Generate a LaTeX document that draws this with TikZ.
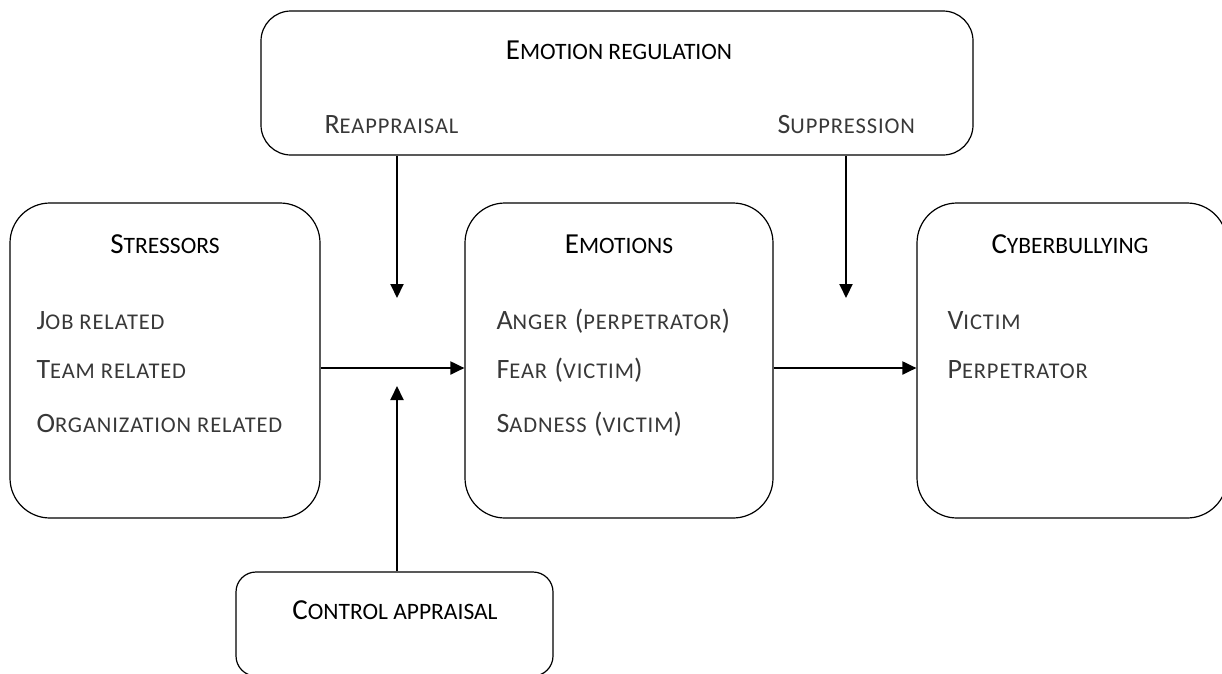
\documentclass[tikz,border=0pt]{standalone}
\usepackage{fontspec}
\setmainfont{Carlito}
\usetikzlibrary{arrows.meta}
% faked small capitals: initial at full size, the rest as smaller capitals
\newcommand\lcsize{20}
\newcommand\lowcaps[1]{{\fontsize{\lcsize}{\lcsize}\selectfont\MakeUppercase{#1}}}
\tikzset{
  box/.style={draw, line width=1.2pt, rounded corners=#1, inner sep=0pt},
  head/.style={anchor=base, text=black,
    font=\fontsize{29}{31}\selectfont\renewcommand\lcsize{23.5}},
  item/.style={anchor=base west, text=black!78,
    font=\addfontfeatures{LetterSpace=4}\fontsize{28}{30}\selectfont\renewcommand\lcsize{22.5}},
  flow/.style={line width=2pt, -{Triangle[length=14pt,width=13pt]}}
}
\begin{document}
\begin{tikzpicture}[x=1pt, y=-1pt]
\useasboundingbox (0,0) rectangle (1222,673);

% boxes
\node[box=30pt, minimum width=712pt, minimum height=144pt] (reg) at (617,83) {};
\node[box=40pt, minimum width=310pt, minimum height=315pt] (str) at (165,360.5) {};
\node[box=40pt, minimum width=308pt, minimum height=315pt] (emo) at (619,360.5) {};
\node[box=40pt, minimum width=310pt, minimum height=315pt] (cyb) at (1072,360.5) {};
\node[box=20pt, minimum width=317pt, minimum height=104pt] (ctl) at (394.5,624) {};

% emotion regulation
\node[head] (regt) at (619,59) {E\lowcaps{motion regulation}};
\node[item] (reap) at (321,133) {R\lowcaps{eappraisal}};
\node[item] (supp) at (774,133) {S\lowcaps{uppression}};

% stressors
\node[head] (strt) at (165,253) {S\lowcaps{tressors}};
\node[item] (s1) at (33,329) {J\lowcaps{ob related}};
\node[item] (s2) at (33,378) {T\lowcaps{eam related}};
\node[item] (s3) at (33,432) {O\lowcaps{rganization related}};

% emotions
\node[head] (emot) at (619,253) {E\lowcaps{motions}};
\node[item] (e1) at (493,329) {A\lowcaps{nger} (\lowcaps{perpetrator})};
\node[item] (e2) at (493,378) {F\lowcaps{ear} (\lowcaps{victim})};
\node[item] (e3) at (493,432) {S\lowcaps{adness} (\lowcaps{victim})};

% cyberbullying
\node[head] (cybt) at (1070,253) {C\lowcaps{yberbullying}};
\node[item] (c1) at (944,329) {V\lowcaps{ictim}};
\node[item] (c2) at (944,378) {P\lowcaps{erpetrator}};

% control appraisal
\node[head] (ctlt) at (395,619) {C\lowcaps{ontrol appraisal}};

% connectors
\coordinate (reapEnd) at (397,298);
\coordinate (suppEnd) at (846,298);
\coordinate (ctlEnd) at (397,386);
\draw[flow] (str.east |- 0,368) -- (emo.west |- 0,368);
\draw[flow] (emo.east |- 0,368) -- (cyb.west |- 0,368);
\draw[flow] (reg.south -| reapEnd) -- (reapEnd);
\draw[flow] (reg.south -| suppEnd) -- (suppEnd);
\draw[flow] (ctl.north -| ctlEnd) -- (ctlEnd);
\end{tikzpicture}
\end{document}
